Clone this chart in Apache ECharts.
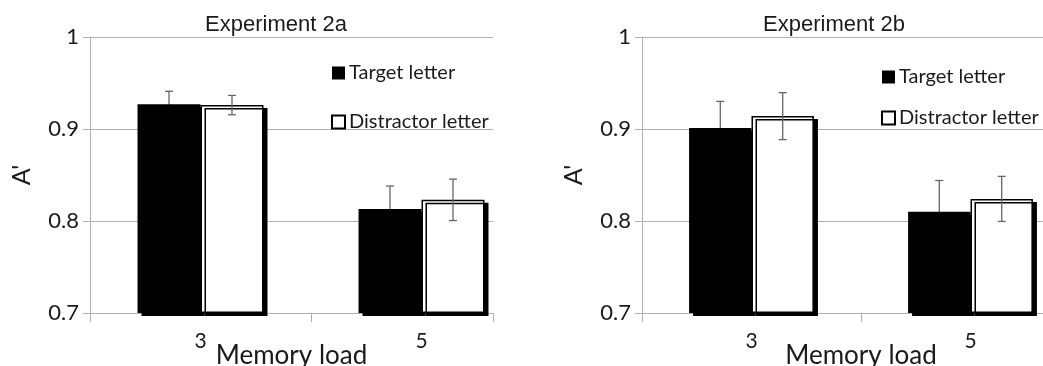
<!DOCTYPE html>
<html>
<head>
<meta charset="utf-8">
<script src="https://cdn.jsdelivr.net/npm/echarts@6/dist/echarts.min.js"></script>
<style>html,body{margin:0;padding:0;background:#fff}#c{width:1043px;height:366px}</style>
</head>
<body>
<div id="c"></div>
<script>
// ---- data ----
const categories = ['3', '5'];
const seriesNames = ['Target letter', 'Distractor letter'];
const yTickLabels = ['0.7', '0.8', '0.9', '1'];
const titles = ['Experiment 2a', 'Experiment 2b'];
// Experiment 2a
const target2a = [0.927, 0.813];
const targetErr2a = [0.014, 0.025];
const distractor2a = [0.926, 0.823];
const distractorErr2a = [0.0105, 0.0225];
// Experiment 2b
const target2b = [0.901, 0.810];
const targetErr2b = [0.029, 0.034];
const distractor2b = [0.914, 0.824];
const distractorErr2b = [0.0255, 0.0245];

// ---- styles ----
const FONT = 'Lato';
const TXT = '#1a1a1a';
const LINE = '#b0b0b0';
const BAR_FRAC = 0.285;
const Y_MIN = 0.7, Y_MAX = 1, Y_INT = 0.1;

const chart = echarts.init(document.getElementById('c'), null, {renderer: 'canvas'});

function yLabel(v) {
  const idx = Math.round((v - Y_MIN) / Y_INT);
  return yTickLabels[idx] !== undefined ? yTickLabels[idx] : '';
}

function visibleY(gridIndex) {
  return {
    gridIndex, type: 'value', min: Y_MIN, max: Y_MAX, interval: Y_INT,
    axisLine: {show: true, lineStyle: {color: LINE, width: 1}},
    axisTick: {show: true, length: 7, lineStyle: {color: LINE}},
    axisLabel: {formatter: yLabel, fontFamily: FONT, fontSize: 22, color: TXT, margin: 11},
    splitLine: {show: true, lineStyle: {color: LINE, width: 1}},
    name: "A'", nameLocation: 'middle', nameGap: 56, nameRotate: 90,
    nameTextStyle: {fontFamily: FONT, fontSize: 25, color: TXT}
  };
}
function hiddenY(gridIndex) {
  return {gridIndex, type: 'value', min: Y_MIN, max: Y_MAX, interval: Y_INT, startValue: Y_MIN, show: false, splitLine: {show: false}};
}
function lineX(gridIndex, max) {
  return {
    gridIndex, type: 'value', min: 0, max: max, interval: 1,
    axisLine: {show: true, onZero: false, lineStyle: {color: LINE, width: 1}},
    axisTick: {show: true, length: 9, lineStyle: {color: LINE}},
    axisLabel: {show: false}, splitLine: {show: false},
    name: 'Memory load', nameLocation: 'middle', nameGap: 30,
    nameTextStyle: {fontFamily: FONT, fontSize: 26, color: TXT}
  };
}
function catX(gridIndex) {
  return {
    gridIndex, type: 'category', data: categories,
    axisLine: {show: false}, axisTick: {show: false}, splitLine: {show: false},
    axisLabel: {fontFamily: FONT, fontSize: 21, color: TXT, margin: 18}
  };
}

const shadow = {shadowColor: 'rgba(0,0,0,1)', shadowBlur: 0, shadowOffsetX: 4, shadowOffsetY: 3};

function bars(ax, tVals, dVals) {
  return [
    {name: seriesNames[0], type: 'bar', xAxisIndex: ax, yAxisIndex: ax, data: tVals,
     barWidth: (BAR_FRAC * 100) + '%', barGap: '0%', clip: false, z: 2,
     itemStyle: Object.assign({color: '#000', borderWidth: 0}, shadow)},
    {name: seriesNames[1], type: 'bar', xAxisIndex: ax, yAxisIndex: ax, data: dVals,
     barWidth: (BAR_FRAC * 100) + '%', barGap: '0%', clip: false, z: 3,
     itemStyle: Object.assign({color: '#fff', borderColor: '#000', borderWidth: 1.5}, shadow)}
  ];
}
function errSeries(ax, vals, errs, side, z) {
  return {
    type: 'custom', xAxisIndex: ax, yAxisIndex: ax, z: z, silent: true, clip: false,
    data: vals.map((v, i) => [i, v, errs[i]]),
    renderItem: function (params, api) {
      const i = api.value(0), v = api.value(1), e = api.value(2);
      const c = api.coord([i, v]);
      const band = api.size([1, 0])[0];
      const x = c[0] + side * band * BAR_FRAC / 2;
      const hi = api.coord([i, v + e])[1];
      const lo = api.coord([i, v - e])[1];
      const cap = 4;
      const st = {stroke: '#666', lineWidth: 1.3};
      return {type: 'group', children: [
        {type: 'line', shape: {x1: x, y1: hi, x2: x, y2: lo}, style: st},
        {type: 'line', shape: {x1: x - cap, y1: hi, x2: x + cap, y2: hi}, style: st},
        {type: 'line', shape: {x1: x - cap, y1: lo, x2: x + cap, y2: lo}, style: st}
      ]};
    }
  };
}

function legend(left, top, gap) {
  return {
    left: left, top: top, orient: 'vertical', itemGap: gap, itemWidth: 13, itemHeight: 13,
    icon: 'rect', data: seriesNames, selectedMode: false,
    itemStyle: {shadowColor: 'transparent', shadowOffsetX: 0, shadowOffsetY: 0},
    textStyle: {fontFamily: FONT, fontSize: 20, color: TXT, padding: [0, 0, 0, -1]}
  };
}

const gridBase = {top: 37, height: 276, containLabel: false, outerBoundsMode: 'none'};
const option = {
  animation: false,
  backgroundColor: '#fff',
  grid: [
    Object.assign({left: 90, width: 403}, gridBase),
    Object.assign({left: 90, width: 442}, gridBase),
    Object.assign({left: 642, width: 438}, gridBase),
    Object.assign({left: 642, width: 438}, gridBase)
  ],
  xAxis: [lineX(0, 403 / 221), catX(1), lineX(2, 2), catX(3)],
  yAxis: [visibleY(0), hiddenY(1), visibleY(2), hiddenY(3)],
  legend: [legend(326, 58, 29), legend(876, 62, 21)],
  graphic: [
    {type: 'text', x: 276, y: 25, style: {text: titles[0], fontFamily: 'Liberation Sans', fontSize: 22, fill: TXT, textAlign: 'center', textVerticalAlign: 'middle'}},
    {type: 'text', x: 834, y: 25, style: {text: titles[1], fontFamily: 'Liberation Sans', fontSize: 22, fill: TXT, textAlign: 'center', textVerticalAlign: 'middle'}}
  ],
  series: [
    errSeries(1, target2a, targetErr2a, -1, 1),
    ...bars(1, target2a, distractor2a),
    errSeries(1, distractor2a, distractorErr2a, 1, 5),
    errSeries(3, target2b, targetErr2b, -1, 1),
    ...bars(3, target2b, distractor2b),
    errSeries(3, distractor2b, distractorErr2b, 1, 5)
  ]
};
chart.setOption(option);
</script>
</body>
</html>
